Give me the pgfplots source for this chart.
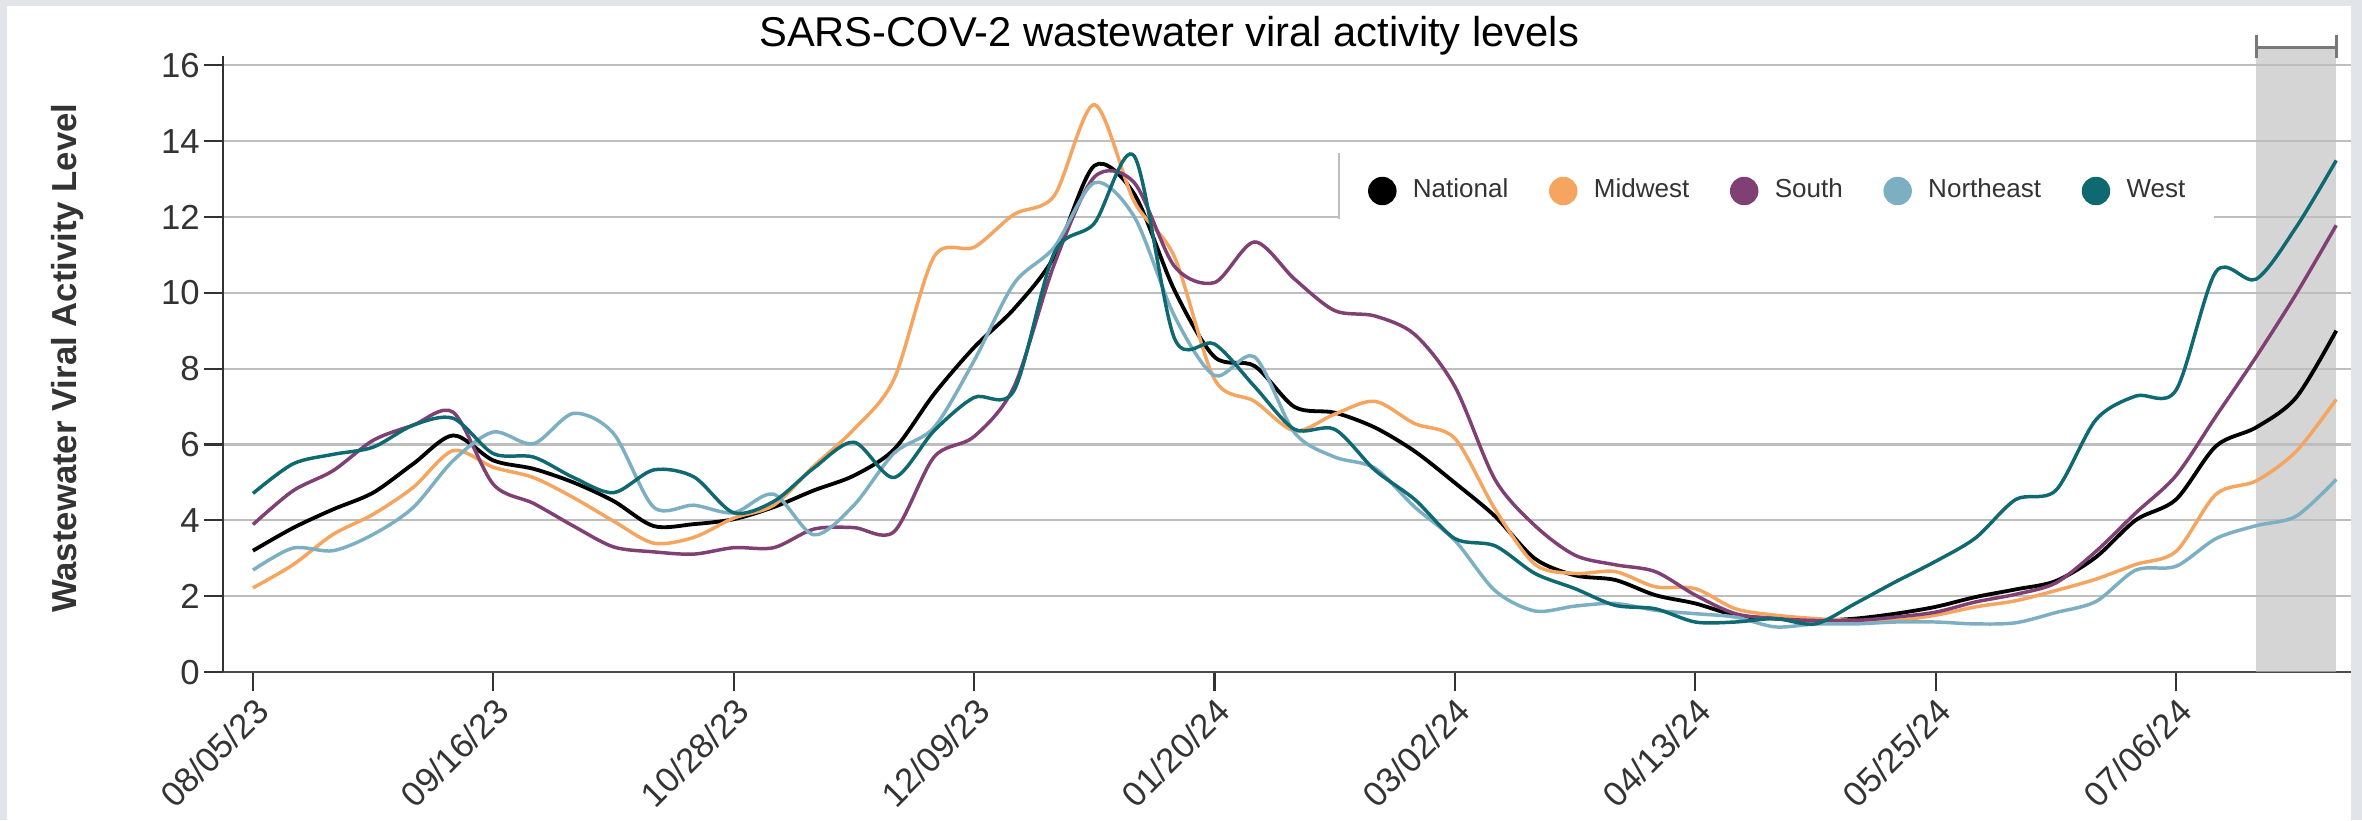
\documentclass[border=0pt]{standalone}
\usepackage{pgfplots}
\pgfplotsset{compat=1.18}
\usepackage{pgfplotstable}
\usepackage{fontspec}
\setmainfont{Liberation Sans}
\definecolor{bgframe}{RGB}{225,229,233}
\definecolor{cNat}{RGB}{0,0,0}
\definecolor{cMid}{RGB}{245,165,95}
\definecolor{cSou}{RGB}{128,64,115}
\definecolor{cNE}{RGB}{125,175,195}
\definecolor{cWest}{RGB}{15,105,112}
\definecolor{gridc}{RGB}{190,190,190}
\definecolor{txt}{RGB}{51,51,51}
\definecolor{brk}{RGB}{120,120,120}

\pgfplotstableread{
w  nat   mw    so    ne    we
0  3.20  2.22  3.89  2.69  4.71
1  3.80  2.83  4.78  3.27  5.49
2  4.29  3.63  5.31  3.20  5.74
3  4.73  4.16  6.11  3.63  5.93
4  5.49  4.87  6.51  4.34  6.51
5  6.24  5.84  6.85  5.58  6.69
6  5.58  5.40  4.95  6.33  5.76
7  5.36  5.13  4.45  6.02  5.67
8  5.00  4.60  3.85  6.82  5.13
9  4.51  3.98  3.30  6.29  4.73
10 3.85  3.40  3.17  4.35  5.33
11 3.90  3.55  3.11  4.40  5.15
12 4.03  4.06  3.28  4.20  4.20
13 4.35  4.40  3.28  4.69  4.50
14 4.79  5.43  3.77  3.62  5.38
15 5.18  6.40  3.81  4.40  6.06
16 5.87  7.72  3.70  5.77  5.13
17 7.33  10.95 5.67  6.45  6.36
18 8.56  11.20 6.21  8.21  7.24
19 9.58  12.07 7.53  10.25 7.43
20 10.95 12.56 10.75 11.20 11.05
21 13.35 14.96 13.05 12.90 11.83
22 12.60 12.40 12.90 12.00 13.60
23 10.07 10.95 10.70 9.39  8.80
24 8.31  7.72  10.27 7.82  8.65
25 8.07  7.14  11.34 8.31  7.53
26 6.99  6.36  10.36 6.31  6.40
27 6.84  6.80  9.53  5.67  6.40
28 6.45  7.14  9.39  5.38  5.33
29 5.82  6.55  8.90  4.35  4.55
30 4.99  6.16  7.53  3.47  3.52
31 4.11  4.30  5.08  2.15  3.33
32 2.99  2.84  3.86  1.61  2.60
33 2.55  2.60  3.08  1.74  2.20
34 2.43  2.65  2.83  1.81  1.76
35 2.03  2.25  2.65  1.63  1.67
36 1.81  2.20  2.03  1.54  1.32
37 1.50  1.67  1.54  1.45  1.32
38 1.41  1.50  1.41  1.19  1.41
39 1.36  1.41  1.36  1.27  1.27
40 1.41  1.36  1.36  1.27  1.81
41 1.54  1.36  1.45  1.32  2.38
42 1.72  1.50  1.58  1.32  2.92
43 1.98  1.72  1.85  1.27  3.54
44 2.18  1.88  2.05  1.30  4.55
45 2.40  2.15  2.35  1.57  4.79
46 3.03  2.45  3.18  1.86  6.65
47 4.01  2.84  4.20  2.69  7.28
48 4.55  3.18  5.18  2.79  7.43
49 5.96  4.69  6.75  3.52  10.56
50 6.45  5.04  8.31  3.86  10.36
51 7.24  5.82  9.97  4.11  11.73
52 9.00  7.19  11.78 5.08  13.49
}\data

\begin{document}
\begin{tikzpicture}
\fill[bgframe] (0pt,0pt) rectangle (680.26pt,236.16pt);
\fill[white] (2.0pt,0pt) rectangle (677.1pt,234.4pt);
\begin{axis}[
  at={(64.2pt,42.6pt)}, anchor=south west,
  scale only axis, width=612.9pt, height=177.4pt,
  xmin=-0.75, xmax=52.37, ymin=0, ymax=16.24,
  clip=false,
  axis x line*=bottom, axis y line*=left,
  x axis line style={color=black!70, line width=0.8pt},
  y axis line style={color=black!80, line width=0.6pt},
  tick align=outside, major tick length=5.5pt,
  tick style={color=txt, line width=0.6pt},
  ytick={0,2,...,16},
  xtick={0,6,...,48},
  xticklabels={08/05/23,09/16/23,10/28/23,12/09/23,01/20/24,03/02/24,04/13/24,05/25/24,07/06/24},
  /pgf/number format/assume math mode=true,
  yticklabel style={font=\fontsize{10}{12}\selectfont, text=txt, inner xsep=1pt},
  xticklabel style={font=\fontsize{10}{12}\selectfont, text=txt, rotate=45, anchor=north east, inner sep=0.8pt},
  ymajorgrids,
  grid style={color=gridc, line width=0.6pt},
  legend columns=5,
  legend cell align=left,
  legend image code/.code={\filldraw[#1, line width=0.4pt] (3.9pt,0pt) circle (3.9pt);},
  legend style={at={(0.5244,0.781)}, anchor=west, draw=none, fill=white,
    inner xsep=8.2pt, inner ysep=5.5pt,
    font=\fontsize{7.5}{9}\selectfont, text=txt,
    nodes={inner sep=0pt},
    /tikz/every odd column/.append style={column sep=4.7pt},
    /tikz/every even column/.append style={column sep=11.7pt}},
]
\fill[gridc, opacity=0.63] (axis cs:50,0) rectangle (axis cs:52,16.47);
\draw[color=brk, line width=0.9pt] (axis cs:50,16.47) -- (axis cs:52,16.47);
\draw[color=brk, line width=0.9pt] (axis cs:50,16.18) -- (axis cs:50,16.79);
\draw[color=brk, line width=0.9pt] (axis cs:52,16.18) -- (axis cs:52,16.79);

\addplot[color=cNat, line width=1.1pt, smooth] table[x=w,y=nat]{\data};
\addlegendentry{National}
\addplot[color=cMid, line width=1.0pt, smooth] table[x=w,y=mw]{\data};
\addlegendentry{Midwest}
\addplot[color=cSou, line width=1.0pt, smooth] table[x=w,y=so]{\data};
\addlegendentry{South}
\addplot[color=cNE, line width=1.0pt, smooth] table[x=w,y=ne]{\data};
\addlegendentry{Northeast}
\addplot[color=cWest, line width=1.0pt, smooth] table[x=w,y=we]{\data};
\addlegendentry{West}
\end{axis}
\draw[color=gridc, line width=0.5pt] (385.6pt,173.1pt) -- (385.6pt,192.1pt);
\node[font=\fontsize{12}{14}\selectfont] at (336.7pt,225.8pt) {SARS-COV-2 wastewater viral activity levels};
\node[rotate=90, font=\bfseries\fontsize{10}{12}\selectfont, text=txt] at (19.5pt,133pt) {Wastewater Viral Activity Level};
\end{tikzpicture}
\end{document}
